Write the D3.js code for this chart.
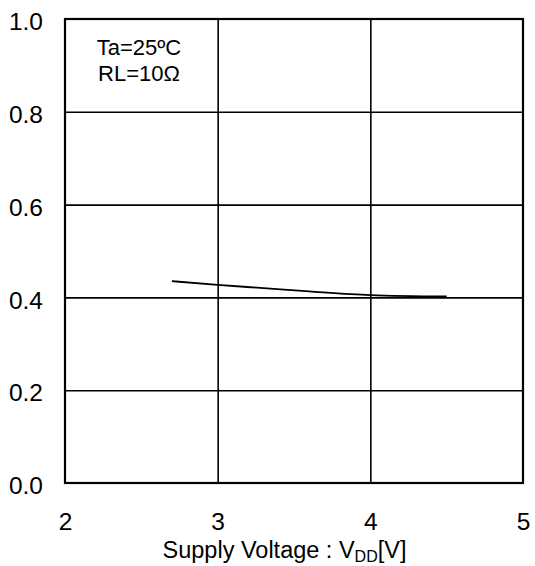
<!DOCTYPE html>
<html>
<head>
<meta charset="utf-8">
<script src="https://cdn.jsdelivr.net/npm/d3@7"></script>
<style>
  body { margin: 0; background: #fff; }
  text { font-family: "Liberation Sans", Arial, sans-serif; fill: #000; }
</style>
</head>
<body>
<div id="chart"></div>
<script>
// Supply voltage (V) and output values
const voltage = [2.7, 3.0, 3.3, 3.6, 4.0, 4.5];
const output = [0.435, 0.427, 0.420, 0.413, 0.405, 0.402];

const xTicks = [2, 3, 4, 5];
const yTicks = [0, 0.2, 0.4, 0.6, 0.8, 1.0];
const notes = ['Ta=25ºC', 'RL=10Ω'];

const width = 535, height = 566;
const margin = { top: 19, right: 12, bottom: 83, left: 65 };
const innerW = width - margin.left - margin.right;
const innerH = height - margin.top - margin.bottom;

const svg = d3.select('#chart')
    .append('svg')
    .attr('width', width)
    .attr('height', height)
    .append('g')
    .attr('transform', `translate(${margin.left},${margin.top})`);

const x = d3.scaleLinear().domain([2, 5]).range([0, innerW]);
const y = d3.scaleLinear().domain([0, 1]).range([innerH, 0]);

// Grid lines
svg.append('g')
    .call(d3.axisBottom(x).tickValues(xTicks.slice(1, -1)).tickSize(innerH).tickFormat(''))
    .call(g => g.select('.domain').remove())
    .selectAll('line')
    .attr('stroke', '#000')
    .attr('stroke-width', 1.6);

svg.append('g')
    .call(d3.axisLeft(y).tickValues(yTicks.slice(1, -1)).tickSize(-innerW).tickFormat(''))
    .call(g => g.select('.domain').remove())
    .selectAll('line')
    .attr('stroke', '#000')
    .attr('stroke-width', 1.6);

// Frame
svg.append('rect')
    .attr('x', 0)
    .attr('y', 0)
    .attr('width', innerW)
    .attr('height', innerH)
    .attr('fill', 'none')
    .attr('stroke', '#000')
    .attr('stroke-width', 2.2);

// Tick labels
svg.append('g')
    .attr('transform', `translate(0,${innerH})`)
    .call(d3.axisBottom(x).tickValues(xTicks).tickSize(0).tickPadding(30).tickFormat(d3.format('d')))
    .call(g => g.select('.domain').remove())
    .selectAll('text')
    .style('font-size', '24.5px');

svg.append('g')
    .call(d3.axisLeft(y).tickValues(yTicks).tickSize(0).tickPadding(22).tickFormat(d3.format('.1f')))
    .call(g => g.select('.domain').remove())
    .selectAll('text')
    .attr('dy', '0.44em')
    .style('font-size', '24.5px');

// Curve
const line = d3.line()
    .x((d, i) => x(voltage[i]))
    .y(d => y(d))
    .curve(d3.curveMonotoneX);

svg.append('path')
    .datum(output)
    .attr('d', line)
    .attr('fill', 'none')
    .attr('stroke', '#000')
    .attr('stroke-width', 1.8);

// Conditions note
svg.append('text')
    .attr('x', 74)
    .attr('y', 36)
    .attr('text-anchor', 'middle')
    .style('font-size', '22px')
    .selectAll('tspan')
    .data(notes)
    .join('tspan')
    .attr('x', 74)
    .attr('dy', (d, i) => i === 0 ? 0 : 26)
    .text(d => d);

// Axis title
const title = svg.append('text')
    .attr('x', 219.5)
    .attr('y', innerH + 75)
    .attr('text-anchor', 'middle')
    .style('font-size', '23.5px');
title.append('tspan').text('Supply Voltage : V');
title.append('tspan').attr('dy', 4).style('font-size', '16px').text('DD');
title.append('tspan').attr('dy', -4).text('[V]');
</script>
</body>
</html>
